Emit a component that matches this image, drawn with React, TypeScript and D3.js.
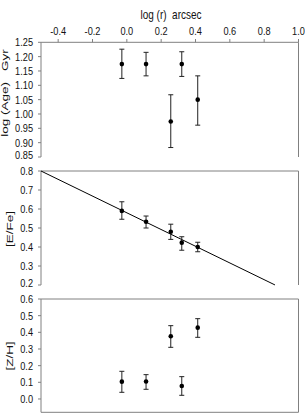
import * as d3 from 'd3';

// log(r) in arcsec
const radius = [-0.029, 0.112, 0.256, 0.32, 0.413];

const age = [1.174, 1.174, 0.974, 1.174, 1.05];
const ageHi = [1.226, 1.215, 1.067, 1.217, 1.133];
const ageLo = [1.124, 1.133, 0.883, 1.131, 0.961];

const efe = [0.59, 0.533, 0.48, 0.423, 0.4];
const efeHi = [0.638, 0.563, 0.52, 0.454, 0.425];
const efeLo = [0.546, 0.5, 0.44, 0.383, 0.375];

const zh = [0.104, 0.105, 0.376, 0.078, 0.428];
const zhHi = [0.166, 0.146, 0.44, 0.134, 0.482];
const zhLo = [0.04, 0.058, 0.31, 0.022, 0.37];

// linear fit drawn across the [E/Fe] panel
const fitSlope = -0.44;
const fitIntercept = 0.58;
const fitRange = [-0.5, 0.863];

const xTicks = [-0.4, -0.2, 0.0, 0.2, 0.4, 0.6, 0.8, 1.0];
const ageTicks = [1.25, 1.2, 1.15, 1.1, 1.05, 1.0, 0.95, 0.9, 0.85];
const efeTicks = [0.8, 0.7, 0.6, 0.5, 0.4, 0.3, 0.2];
const zhTicks = [0.6, 0.5, 0.4, 0.3, 0.2, 0.1, 0.0];

const FONT = '"Liberation Sans", Arial, sans-serif';
const AXIS = '#808080';
const INK = '#111';
// the original figure is squashed horizontally
const SQUASH = 0.8;

const x = d3.scaleLinear().domain([-0.5, 1.0]).range([41, 298.5]);

function NText({ x, y, anchor, size, children }: { x: number; y: number; anchor: string; size: number; children: React.ReactNode }) {
  return (
    <text
      transform={`translate(${x},${y}) scale(${SQUASH},1)`}
      dy="0.35em"
      textAnchor={anchor}
      fontSize={size}
      fontFamily={FONT}
      fill={INK}
      style={{ whiteSpace: 'pre' }}
    >
      {children}
    </text>
  );
}

interface PanelProps {
  yScale: d3.ScaleLinear<number, number>;
  ticks: number[];
  fmt: (v: number) => string;
  values: number[];
  hi: number[];
  lo: number[];
  title: string;
  titleX: number;
  titleY?: number;
  bottom: boolean;
  children?: React.ReactNode;
}

function Panel({ yScale, ticks, fmt, values, hi, lo, title, titleX, titleY, bottom, children }: PanelProps) {
  const [y0, y1] = yScale.range();
  const top = Math.min(y0, y1);
  const bot = Math.max(y0, y1);
  const [xl, xr] = x.range();
  const last = ticks.length - 1;
  return (
    <g>
      <line x1={xl} x2={xr} y1={top} y2={top} stroke={AXIS} />
      <line x1={xl} x2={xl} y1={top} y2={bot} stroke={AXIS} />
      <line x1={xr} x2={xr} y1={top} y2={bot} stroke={AXIS} />
      {bottom && <line x1={xl} x2={xr} y1={bot} y2={bot} stroke={AXIS} />}
      {ticks.map((t, i) => (
        <g key={t}>
          <line x1={xl - 3} x2={xl} y1={yScale(t)} y2={yScale(t)} stroke={AXIS} />
          <NText x={33} y={yScale(t) - (i === last && !bottom ? 2.5 : 0)} anchor="end" size={11.5}>
            {fmt(t)}
          </NText>
        </g>
      ))}
      <text
        transform={`translate(${titleX},${titleY ?? (top + bot) / 2}) scale(${SQUASH * 0.85},1) rotate(-90)`}
        textAnchor="middle"
        dy="0.35em"
        fontSize={13.5}
        fontFamily={FONT}
        fill={INK}
        style={{ whiteSpace: 'pre' }}
      >
        {title}
      </text>
      {children}
      {values.map((v, i) => {
        const cx = x(radius[i]);
        return (
          <g key={i} stroke="#222" strokeWidth={1}>
            <line x1={cx} x2={cx} y1={yScale(hi[i])} y2={yScale(lo[i])} />
            <line x1={cx - 2.5} x2={cx + 2.5} y1={yScale(hi[i])} y2={yScale(hi[i])} />
            <line x1={cx - 2.5} x2={cx + 2.5} y1={yScale(lo[i])} y2={yScale(lo[i])} />
            <circle cx={cx} cy={yScale(v)} r={2.3} fill="#000" stroke="none" />
          </g>
        );
      })}
    </g>
  );
}

export default function App() {
  const yAge = d3.scaleLinear().domain([0.85, 1.25]).range([157, 42.3]);
  const yEfe = d3.scaleLinear().domain([0.2, 0.8]).range([285, 171]);
  const yZh = d3.scaleLinear().domain([-0.08, 0.6]).range([412.3, 299]);

  const fitLine = d3
    .line<number>()
    .x((d) => x(d))
    .y((d) => yEfe(fitIntercept + fitSlope * d));

  return (
    <svg width={305} height={414} style={{ position: 'absolute', left: 0, top: 0, background: '#fff' }}>
      <NText x={171} y={15} anchor="middle" size={12.5}>
        log (r)  arcsec
      </NText>
      {xTicks.map((t) => (
        <g key={t}>
          <line x1={x(t)} x2={x(t)} y1={42.3} y2={39} stroke={AXIS} />
          <NText x={x(t)} y={31} anchor="middle" size={11.5}>
            {d3.format('.1f')(t).replace('−', '-')}
          </NText>
        </g>
      ))}
      <Panel
        yScale={yAge}
        ticks={ageTicks}
        fmt={d3.format('.2f')}
        values={age}
        hi={ageHi}
        lo={ageLo}
        title="log (Age)   Gyr"
        titleX={5}
        titleY={93}
        bottom={false}
      />
      <Panel
        yScale={yEfe}
        ticks={efeTicks}
        fmt={d3.format('.1f')}
        values={efe}
        hi={efeHi}
        lo={efeLo}
        title="[E/Fe]"
        titleX={10}
        titleY={229}
        bottom={false}
      >
        <path d={fitLine(fitRange) ?? ''} fill="none" stroke="#000" strokeWidth={1} />
      </Panel>
      <Panel
        yScale={yZh}
        ticks={zhTicks}
        fmt={d3.format('.1f')}
        values={zh}
        hi={zhHi}
        lo={zhLo}
        title="[Z/H]"
        titleX={10}
        titleY={356}
        bottom={true}
      />
    </svg>
  );
}
